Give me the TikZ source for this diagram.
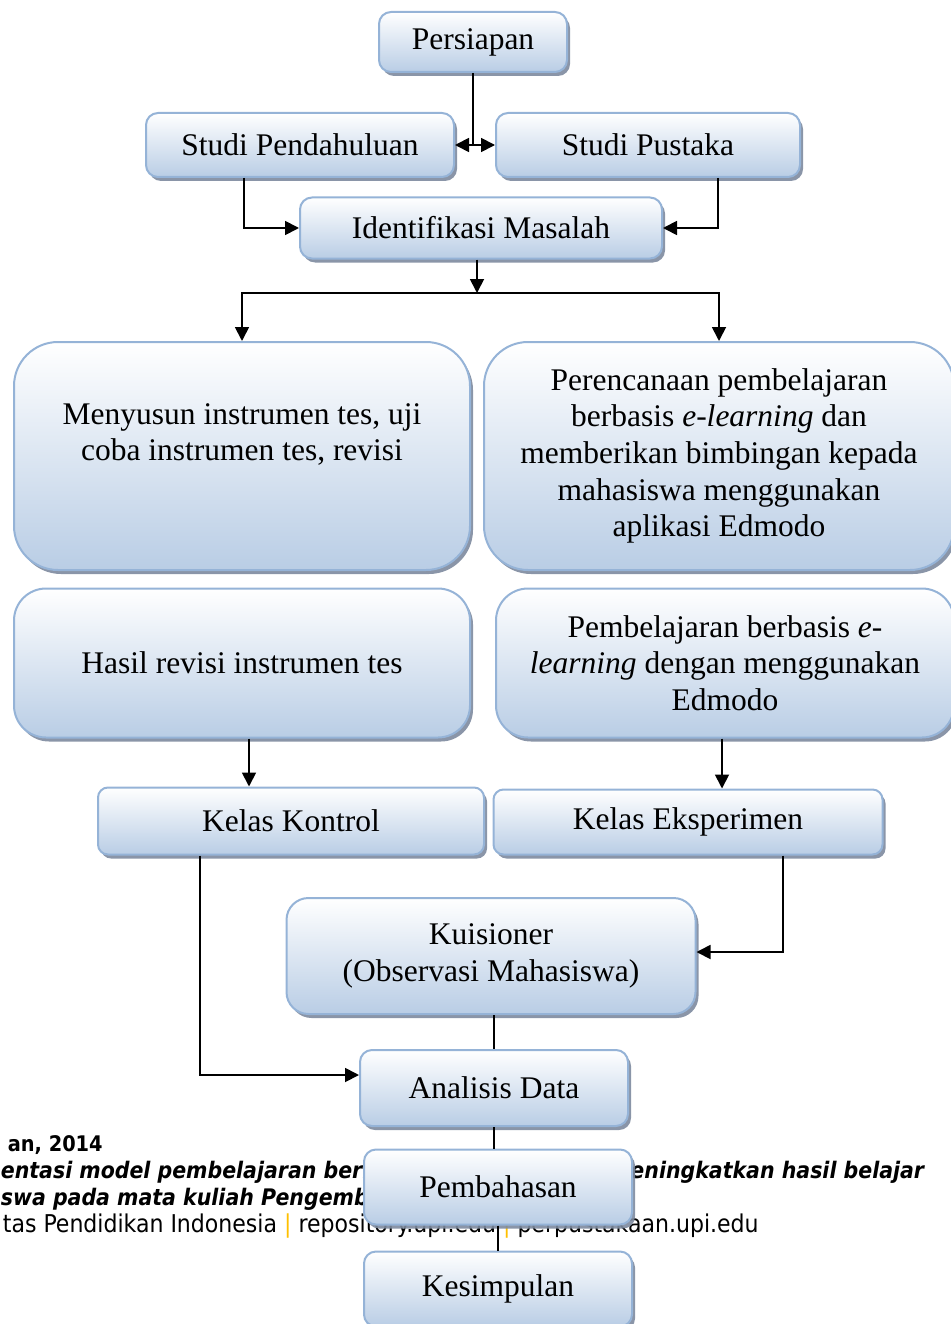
\documentclass[tikz,border=0pt]{standalone}
\usepackage{fontspec}
\setmainfont{Liberation Serif}
\newfontfamily\footfont{DejaVu Sans Condensed}
\usetikzlibrary{arrows.meta,shadows}
\definecolor{boxline}{RGB}{149,179,215}
\definecolor{boxbottom}{RGB}{185,205,229}
\definecolor{boxshadow}{RGB}{125,138,158}
\definecolor{barorange}{RGB}{255,192,0}
\begin{document}
\begin{tikzpicture}[x=1pt,y=-1pt,line width=1.8pt,
    flowbox/.style={draw=boxline, line width=2pt, rounded corners=#1,
      top color=white, bottom color=boxbottom, align=center, inner sep=2pt,
      font=\fontsize{31.5}{36.7}\selectfont,
      drop shadow={shadow xshift=3pt, shadow yshift=-4pt, fill=boxshadow, opacity=0.9}},
    flowbox/.default=12pt,
    arr/.style={-{Triangle[length=14pt,width=14pt]}},
    foot/.style={font=\footfont\fontsize{24.5}{28}\selectfont, inner sep=0pt},
    footbold/.style={font=\footfont\fontsize{22.8}{28}\selectfont\bfseries\itshape, inner sep=0pt}]
  \useasboundingbox (0,0) rectangle (950,1324);

  % page footer behind the chart
  \node[footbold, font=\footfont\fontsize{21.5}{28}\selectfont\bfseries, anchor=base west] (footyear) at (7,1151) {an, 2014};
  \node[footbold, anchor=base west] (foottitle) at (0,1178) {entasi model pembelajaran berbasis};
  \node[footbold, anchor=base east] (foottitleb) at (925,1178) {meningkatkan hasil belajar};
  \node[footbold, anchor=base west] (footcourse) at (0,1205) {swa pada mata kuliah Pengembangan};
  \node[foot, anchor=base west] (footuni) at (2,1232) {tas Pendidikan Indonesia {\color{barorange}|} repository.upi.edu {\color{barorange}|} perpustakaan.upi.edu};

  % boxes
  \node[flowbox, minimum width=188pt, minimum height=60pt] (pers) at (473,42) {Persiapan};
  \node[flowbox, minimum width=308pt, minimum height=64pt] (sp) at (300,145) {Studi Pendahuluan};
  \node[flowbox, minimum width=304pt, minimum height=64pt] (spu) at (648,145) {Studi Pustaka};
  \node[flowbox, minimum width=362pt, minimum height=61pt] (im) at (481,228) {Identifikasi Masalah};

  \node[flowbox=44pt, minimum width=456pt, minimum height=228pt] (susun) at (242,456)
    {Menyusun instrumen tes, uji\\coba instrumen tes, revisi\\ \strut};
  \node[flowbox=44pt, minimum width=470pt, minimum height=228pt] (rencana) at (719,456)
    {Perencanaan pembelajaran\\berbasis \textit{e-learning} dan\\memberikan bimbingan kepada\\mahasiswa menggunakan\\aplikasi Edmodo};
  \node[flowbox=32pt, minimum width=456pt, minimum height=149pt] (hasil) at (242,663)
    {Hasil revisi instrumen tes};
  \node[flowbox=32pt, minimum width=458pt, minimum height=149pt] (belajar) at (725,663)
    {Pembelajaran berbasis \textit{e-}\\\textit{learning} dengan menggunakan\\Edmodo};

  \node[flowbox=10pt, minimum width=386pt, minimum height=67pt] (kontrol) at (291,821) {Kelas Kontrol};
  \node[flowbox=10pt, minimum width=389pt, minimum height=65pt] (eksp) at (688,822) {Kelas Eksperimen};
  \node[flowbox=22pt, minimum width=409pt, minimum height=116pt] (kuis) at (491,956)
    {Kuisioner\\(Observasi Mahasiswa)};
  \node[flowbox, minimum width=268pt, minimum height=76pt] (analisis) at (494,1088) {Analisis Data};
  \node[flowbox, minimum width=268pt, minimum height=75pt] (bahas) at (498,1187) {Pembahasan};
  \node[flowbox, minimum width=268pt, minimum height=75pt] (simpul) at (498,1289) {Kesimpulan};

  % connectors
  \draw (pers.south) -- (pers.south |- sp.east) coordinate (split);
  \draw[arr] (split) -- (sp.east);
  \draw[arr] (split) -- (spu.west);
  \draw[arr] ([xshift=-56pt]sp.south) |- (im.west);
  \draw[arr] ([xshift=70pt]spu.south) |- (im.east);

  \coordinate (fork) at ([xshift=-4pt]im.south |- 0,293);
  \draw[arr] ([xshift=-4pt]im.south) -- (fork);
  \draw[arr] (fork) -| (susun.north);
  \draw[arr] (fork) -| (rencana.north);

  \draw[arr] ([xshift=7pt]hasil.south) -- ([xshift=7pt]hasil.south |- kontrol.north);
  \draw[arr] ([xshift=-3pt]belajar.south) -- ([xshift=-3pt]belajar.south |- eksp.north);

  \draw[arr] ([xshift=95pt]eksp.south) |- ([yshift=4pt]kuis.east);
  \draw[arr] ([xshift=-91pt]kontrol.south) |- ([yshift=13pt]analisis.west);

  \draw (analisis.north |- kuis.south) -- (analisis.north);
  \draw (analisis.south) -- (analisis.south |- bahas.north);
  \draw (bahas.south) -- (simpul.north);
\end{tikzpicture}
\end{document}
